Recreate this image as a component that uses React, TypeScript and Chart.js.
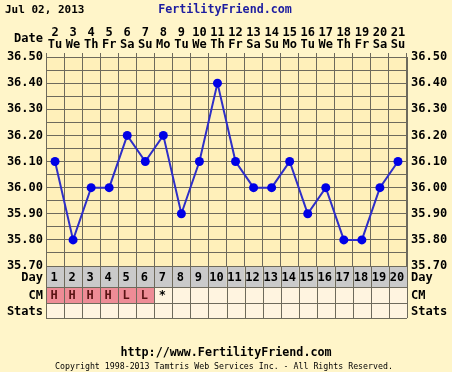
import React, { useEffect, useRef } from "react";
import { Chart, registerables } from "chart.js";

Chart.register(...registerables);

const dayNumbers = ["1","2","3","4","5","6","7","8","9","10","11","12","13","14","15","16","17","18","19","20"];
const dateNumbers = ["2","3","4","5","6","7","8","9","10","11","12","13","14","15","16","17","18","19","20","21"];
const weekdays = ["Tu","We","Th","Fr","Sa","Su","Mo","Tu","We","Th","Fr","Sa","Su","Mo","Tu","We","Th","Fr","Sa","Su"];
const temperatures = [36.10,35.80,36.00,36.00,36.20,36.10,36.20,35.90,36.10,36.40,36.10,36.00,36.00,36.10,35.90,36.00,35.80,35.80,36.00,36.10];
const cmValues = ["H","H","H","H","L","L","*","","","","","","","","","","","","",""];
const headerDate = "Jul 02, 2013";
const headerSite = "FertilityFriend.com";
const footerUrl = "http://www.FertilityFriend.com";
const footerCopy = "Copyright 1998-2013 Tamtris Web Services Inc. - All Rights Reserved.";

const MONO = "'DejaVu Sans Mono', monospace";
const PAGE_BG = "#FFF5C9";
const PLOT_BG = "#FFF0BA";
const GRID = "#6E6A5C";

export default function App() {
  const ref = useRef<HTMLCanvasElement>(null);
  useEffect(() => {
    document.body.style.margin = "0";
    const canvas = ref.current!;
    const bgPlugin = {
      id: "bg",
      beforeDraw(chart: any) {
        const c = chart.ctx;
        const a = chart.chartArea;
        c.save();
        c.fillStyle = PAGE_BG;
        c.fillRect(0, 0, chart.width, chart.height);
        c.fillStyle = PLOT_BG;
        c.fillRect(a.left, a.top, a.right - a.left, a.bottom - a.top);
        c.restore();
      },
    };
    const tablePlugin = {
      id: "table",
      afterDraw(chart: any) {
        const c = chart.ctx;
        const a = chart.chartArea;
        const x = chart.scales.x;
        const w = x.getPixelForValue(1) - x.getPixelForValue(0);
        const rows = [a.bottom, a.bottom + 21, a.bottom + 37, a.bottom + 52];
        c.save();
        // header texts
        c.textBaseline = "middle";
        c.fillStyle = "#000";
        c.font = `bold 11px ${MONO}`;
        c.textAlign = "left";
        c.fillText(headerDate, 5, 10);
        c.fillStyle = "#1C1CA0";
        c.font = `bold 11.7px ${MONO}`;
        c.textAlign = "center";
        c.fillText(headerSite, 225, 10);
        c.fillStyle = "#000";
        c.font = `bold 12px ${MONO}`;
        c.textAlign = "right";
        c.fillText("Date", 43, 39);
        // table cells
        for (let i = 0; i < dayNumbers.length; i++) {
          const cx = x.getPixelForValue(i);
          const l = cx - w / 2;
          c.fillStyle = "#CACACA";
          c.fillRect(l, rows[0], w, rows[1] - rows[0]);
          c.fillStyle = cmValues[i] === "H" || cmValues[i] === "L" ? "#EE8C96" : "#FFF4E0";
          c.fillRect(l, rows[1], w, rows[2] - rows[1]);
          c.fillStyle = "#FFF4E0";
          c.fillRect(l, rows[2], w, rows[3] - rows[2]);
        }
        c.strokeStyle = GRID;
        c.lineWidth = 1;
        c.beginPath();
        for (let i = 0; i <= dayNumbers.length; i++) {
          const px = Math.round(x.getPixelForValue(0) - w / 2 + i * w) + 0.5;
          c.moveTo(px, rows[0]);
          c.lineTo(px, rows[3]);
        }
        for (const r of rows) {
          c.moveTo(a.left, r + 0.5);
          c.lineTo(a.right, r + 0.5);
        }
        c.stroke();
        c.font = `bold 12px ${MONO}`;
        c.textAlign = "center";
        for (let i = 0; i < dayNumbers.length; i++) {
          const cx = x.getPixelForValue(i) - 1;
          c.fillStyle = "#000";
          c.fillText(dayNumbers[i], cx, (rows[0] + rows[1]) / 2 + 1);
          if (cmValues[i]) {
            c.fillStyle = cmValues[i] === "*" ? "#000" : "#5A1414";
            c.fillText(cmValues[i], cx, (rows[1] + rows[2]) / 2 + 1);
          }
        }
        c.fillStyle = "#000";
        const labels = ["Day", "CM", "Stats"];
        for (let k = 0; k < 3; k++) {
          const cy = (rows[k] + rows[k + 1]) / 2 + 1;
          c.textAlign = "right";
          c.fillText(labels[k], 43, cy);
          c.textAlign = "left";
          c.fillText(labels[k], 411, cy);
        }
        // footer
        c.textAlign = "center";
        c.font = `bold 11.7px ${MONO}`;
        c.fillText(footerUrl, 226, 353);
        c.font = `8.25px ${MONO}`;
        c.fillText(footerCopy, 224, 367);
        c.restore();
      },
    };
    const tickFont = { family: MONO, size: 12, weight: "bold" as const, lineHeight: 1 };
    const yTick = (v: any) => (Math.round(Number(v) * 100) % 10 === 0 ? Number(v).toFixed(2) : "");
    const chart = new Chart(canvas, {
      type: "line",
      data: {
        labels: dayNumbers,
        datasets: [
          {
            data: temperatures,
            borderColor: "#2E2EC8",
            borderWidth: 2,
            backgroundColor: "#0000E6",
            pointBackgroundColor: "#0000E6",
            pointBorderWidth: 0,
            pointRadius: 4.5,
            tension: 0,
            xAxisID: "x",
            yAxisID: "y",
          },
        ],
      },
      plugins: [bgPlugin, tablePlugin],
      options: {
        responsive: false,
        animation: false,
        layout: { padding: { top: 0, left: 0, right: 0, bottom: 106 } },
        plugins: { legend: { display: false }, tooltip: { enabled: false }, title: { display: false } },
        scales: {
          x: {
            type: "category",
            display: false,
            offset: true,
          },
          xTop: {
            type: "category",
            position: "top",
            labels: dateNumbers.map((d, i) => [d, weekdays[i]]),
            offset: true,
            grid: { display: true, offset: true, color: GRID, tickLength: 4, drawTicks: true },
            border: { display: true, color: GRID },
            ticks: { font: tickFont, color: "#000", padding: 2, maxRotation: 0, autoSkip: false },
            afterFit(s: any) { s.height = 57; },
          },
          y: {
            type: "linear",
            position: "left",
            min: 35.7,
            max: 36.5,
            grid: { color: GRID, drawTicks: false },
            border: { display: true, color: GRID },
            ticks: { stepSize: 0.05, autoSkip: false, font: tickFont, color: "#000", padding: 3, callback: yTick },
            afterFit(s: any) { s.width = 46; },
          },
          yRight: {
            type: "linear",
            position: "right",
            min: 35.7,
            max: 36.5,
            grid: { display: false, drawTicks: false },
            border: { display: true, color: GRID },
            ticks: { stepSize: 0.05, autoSkip: false, font: tickFont, color: "#000", padding: 4, callback: yTick },
            afterFit(s: any) { s.width = 45; },
          },
        },
      },
    });
    return () => chart.destroy();
  }, []);
  return <canvas ref={ref} width={452} height={372} style={{ display: "block" }} />;
}
